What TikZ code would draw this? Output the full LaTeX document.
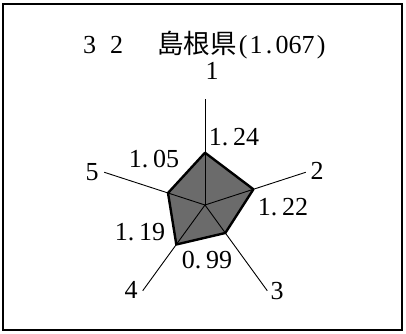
\documentclass[tikz,border=0pt]{standalone}
\usepackage{fontspec}
\usetikzlibrary{calc}
\newfontfamily\numfont{Liberation Serif}
\newfontfamily\cjk{Noto Sans CJK JP}
\newcommand{\cell}[1]{\makebox[13pt]{#1}}
\begin{document}
\begin{tikzpicture}[x=1pt,y=1pt,
  lbl/.style={font=\numfont\fontsize{26}{26}\selectfont, inner sep=0pt},
  axisline/.style={line width=0.9pt, black},
  radarfill/.style={fill=black!58},
  radarborder/.style={line width=2.4pt, line join=round, black},
  frame/.style={line width=1.3pt, black}]
\useasboundingbox (0,0) rectangle (406,333);
\draw[frame] (3,3) rectangle (402,329);
\coordinate (c) at (205,128);
\foreach \i/\a in {1/90,2/18,3/-54,4/-126,5/162}
  \coordinate (e\i) at ($(c)+(\a:106)$);
\foreach \i/\a/\r in {1/90/52.3,2/18/50.9,3/-54/34.6,4/-126/48.8,5/162/38.9}
  \coordinate (v\i) at ($(c)+(\a:\r)$);
\fill[radarfill] (v1) -- (v2) -- (v3) -- (v4) -- (v5) -- cycle;
\foreach \i in {1,...,5} \draw[axisline] (c) -- (e\i);
\draw[radarborder] (v1) -- (v2) -- (v3) -- (v4) -- (v5) -- cycle;
% title
\node[lbl, anchor=base west] (title) at (76,280)
  {\makebox[27pt]{3}\makebox[27pt]{2}\hspace{27pt}{\cjk\fontsize{26.5}{26.5}\selectfont 島根県}\cell{(}\cell{1}\cell{.}\cell{0}\cell{6}\cell{7}\cell{)}};
% axis labels
\node[lbl] (l1) at (212,262) {1};
\node[lbl] (l2) at (317,162) {2};
\node[lbl] (l3) at (277,42) {3};
\node[lbl] (l4) at (131,43) {4};
\node[lbl] (l5) at (92,161) {5};
% value labels
\node[lbl] (n1) at (234,196) {1.\kern5pt 24};
\node[lbl] (n2) at (283,126) {1.\kern5pt 22};
\node[lbl] (n3) at (207,73) {0.\kern5pt 99};
\node[lbl] (n4) at (140,101) {1.\kern5pt 19};
\node[lbl] (n5) at (154,174) {1.\kern5pt 05};
\end{tikzpicture}
\end{document}
